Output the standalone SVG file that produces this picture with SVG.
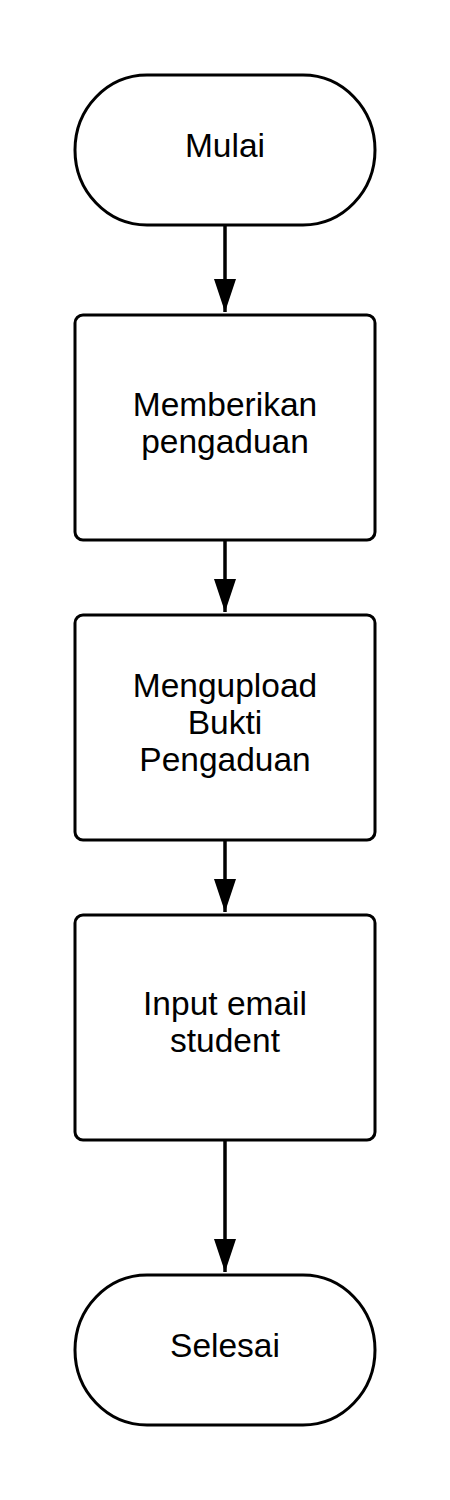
<svg xmlns="http://www.w3.org/2000/svg" width="450" height="1500" viewBox="0 0 450 1500">
<style>
.shape{fill:#fff;stroke:#000;stroke-width:3}
.lbl{font-family:"Liberation Sans",Arial,sans-serif;font-size:33.5px;fill:#000;text-anchor:middle}
.conn{stroke:#000;stroke-width:3.5;fill:none}
</style>
<defs>
<marker id="arr" markerUnits="userSpaceOnUse" markerWidth="33" markerHeight="22" refX="33" refY="11" orient="auto" viewBox="0 0 33 22">
<path d="M0,0 L33,11 L0,22 Z" fill="#000"/>
</marker>
</defs>
<rect width="450" height="1500" fill="#fff"/>
<g id="connectors">
<line class="conn" x1="225" y1="225" x2="225" y2="312" marker-end="url(#arr)"/>
<line class="conn" x1="225" y1="540" x2="225" y2="612" marker-end="url(#arr)"/>
<line class="conn" x1="225" y1="840" x2="225" y2="912" marker-end="url(#arr)"/>
<line class="conn" x1="225" y1="1140" x2="225" y2="1272" marker-end="url(#arr)"/>
</g>
<g id="mulai">
<rect class="shape" x="75" y="75" width="300" height="150" rx="72" ry="75"/>
<text class="lbl" x="225" y="157">Mulai</text>
</g>
<g id="memberikan">
<rect class="shape" x="75" y="315" width="300" height="225" rx="8"/>
<text class="lbl" x="225" y="416">Memberikan</text>
<text class="lbl" x="225" y="453">pengaduan</text>
</g>
<g id="mengupload">
<rect class="shape" x="75" y="615" width="300" height="225" rx="8"/>
<text class="lbl" x="225" y="697">Mengupload</text>
<text class="lbl" x="225" y="734">Bukti</text>
<text class="lbl" x="225" y="771">Pengaduan</text>
</g>
<g id="input">
<rect class="shape" x="75" y="915" width="300" height="225" rx="8"/>
<text class="lbl" x="225" y="1015">Input email</text>
<text class="lbl" x="225" y="1052">student</text>
</g>
<g id="selesai">
<rect class="shape" x="75" y="1275" width="300" height="150" rx="72" ry="75"/>
<text class="lbl" x="225" y="1357">Selesai</text>
</g>
</svg>
